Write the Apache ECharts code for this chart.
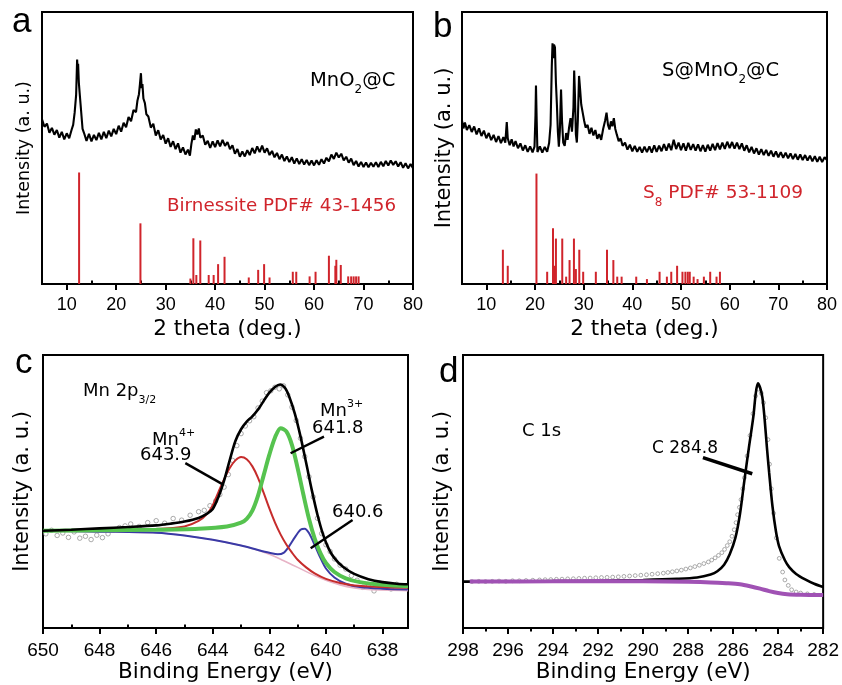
<!DOCTYPE html>
<html>
<head>
<meta charset="utf-8">
<script src="https://cdn.jsdelivr.net/npm/echarts@6/dist/echarts.min.js"></script>
<style>
html,body{margin:0;padding:0;background:#fff;}
#chart{width:842px;height:685px;}
</style>
</head>
<body>
<div id="chart"></div>
<script>
// ---------- DATA ----------
// Panel a: XRD of MnO2@C  [2theta, intensity]
const xrdA = [
[5.0,60.5],[5.5,57.8],[6.0,59.0],[6.5,55.6],[7.0,57.4],[7.5,54.9],[8.0,56.6],[8.5,53.8],[9.0,55.9],[9.5,53.2],
[10.0,55.4],[10.5,53.6],[11.0,56.8],[11.3,58.5],[11.6,63.0],[11.9,69.5],[12.0,76.0],[12.1,82.5],[12.2,79.0],[12.3,81.0],
[12.45,74.0],[12.6,70.5],[12.8,66.0],[13.0,61.5],[13.2,57.0],[13.5,55.5],[14.0,52.6],[14.5,55.2],[15.0,52.4],[15.5,54.8],
[16.0,52.9],[16.5,55.6],[17.0,53.2],[17.5,55.9],[18.0,53.6],[18.5,56.4],[19.0,54.3],[19.5,57.0],[20.0,55.1],[20.5,58.2],
[21.0,56.0],[21.5,59.3],[22.0,57.6],[22.5,61.4],[23.0,59.8],[23.5,64.0],[24.0,63.2],[24.3,67.5],[24.6,69.8],[24.8,73.5],
[25.0,77.5],[25.15,72.0],[25.3,73.5],[25.5,68.2],[25.8,66.5],[26.1,62.4],[26.5,61.6],[27.0,57.5],[27.5,58.9],[28.0,54.6],
[28.5,56.5],[29.0,53.1],[29.5,54.8],[30.0,51.6],[30.5,53.6],[31.0,50.4],[31.5,52.5],[32.0,49.6],[32.5,51.7],[33.0,48.3],
[33.5,50.2],[34.0,47.6],[34.5,49.4],[34.9,47.2],[35.2,51.5],[35.5,54.6],[35.8,53.0],[36.1,56.8],[36.4,55.0],[36.7,57.2],
[37.0,53.8],[37.5,54.6],[38.0,51.2],[38.5,52.6],[39.0,50.0],[39.5,52.4],[40.0,50.3],[40.5,52.8],[41.0,50.6],[41.5,53.0],
[42.0,50.8],[42.5,52.2],[43.0,49.6],[43.5,51.0],[44.0,47.9],[44.5,49.6],[45.0,46.8],[45.5,48.7],[46.0,46.9],[46.5,49.2],
[47.0,47.4],[47.5,50.0],[48.0,48.0],[48.5,50.6],[49.0,48.5],[49.5,50.9],[50.0,48.3],[50.5,49.9],[51.0,47.4],[51.5,48.9],
[52.0,46.6],[52.5,48.2],[53.0,45.9],[53.5,47.6],[54.0,45.2],[54.5,46.9],[55.0,44.8],[55.5,46.6],[56.0,44.3],[56.5,46.2],
[57.0,44.1],[57.5,45.9],[58.0,43.9],[58.5,45.6],[59.0,43.7],[59.5,45.4],[60.0,43.6],[60.5,45.5],[61.0,43.8],[61.5,45.9],
[62.0,44.3],[62.5,46.4],[63.0,45.1],[63.5,47.6],[64.0,46.0],[64.5,48.3],[65.0,46.5],[65.5,47.9],[66.0,45.4],[66.5,46.8],
[67.0,44.6],[67.5,46.1],[68.0,43.7],[68.5,45.2],[69.0,43.2],[69.5,44.9],[70.0,43.0],[70.5,44.7],[71.0,42.9],[71.5,44.6],
[72.0,43.1],[72.5,44.8],[73.0,43.0],[73.5,44.9],[74.0,43.3],[74.5,45.2],[75.0,43.6],[75.5,45.4],[76.0,43.8],[76.5,45.1],
[77.0,43.2],[77.5,44.8],[78.0,42.7],[78.5,44.4],[79.0,42.5],[79.5,44.1],[80.0,42.6]
];
// Birnessite PDF# 43-1456 reference lines
const refA = [
[12.5,41],[24.9,22.3],[35.0,2.0],[35.6,16.8],[36.2,3.3],[37.0,16.0],[38.7,3.3],[39.7,3.3],[40.6,7.3],[41.9,10.0],
[46.8,2.4],[48.7,5.2],[49.9,7.3],[51.0,2.4],[55.7,4.5],[56.4,4.5],[59.1,2.8],[60.3,4.5],[63.0,10.4],[64.3,6.7],
[64.5,8.9],[65.4,7.0],[66.9,2.8],[67.5,2.8],[68.0,2.8],[68.5,2.8],[69.0,2.8]
];
// Panel b: XRD of S@MnO2@C
const xrdB = [
[5.0,60.0],[5.3,57.2],[5.6,59.4],[6.0,56.6],[6.5,58.4],[7.0,55.9],[7.5,57.9],[8.0,55.0],[8.5,57.2],[9.0,54.4],
[9.5,56.4],[10.0,53.6],[10.5,55.5],[11.0,52.9],[11.5,54.8],[12.0,52.2],[12.5,54.4],[13.0,51.8],[13.5,54.0],[13.9,52.0],
[14.2,59.5],[14.4,53.6],[14.8,51.0],[15.2,53.2],[15.6,50.6],[16.0,52.5],[16.5,49.9],[17.0,51.7],[17.5,49.1],[18.0,51.0],
[18.5,48.6],[19.0,50.6],[19.5,48.4],[19.9,50.5],[20.1,62.0],[20.2,73.0],[20.35,60.0],[20.5,48.5],[21.0,50.6],[21.5,48.3],
[22.0,50.4],[22.5,48.6],[22.9,51.8],[23.2,58.5],[23.45,80.0],[23.6,88.5],[23.75,83.0],[23.9,88.0],[24.1,87.0],[24.3,74.0],
[24.5,66.0],[24.7,56.0],[24.9,50.5],[25.1,56.0],[25.35,71.5],[25.55,60.0],[25.8,52.0],[26.1,50.8],[26.4,55.5],[26.7,53.0],
[27.0,57.5],[27.3,61.0],[27.6,56.0],[27.9,65.0],[28.05,78.5],[28.2,70.0],[28.4,55.0],[28.6,52.0],[28.8,60.0],[29.05,76.5],
[29.25,72.0],[29.5,66.0],[29.8,63.0],[30.1,60.0],[30.4,57.5],[30.8,58.5],[31.2,55.2],[31.6,57.4],[32.0,54.6],[32.4,56.6],
[32.8,53.4],[33.2,55.1],[33.6,53.0],[34.0,57.0],[34.4,60.0],[34.7,63.0],[35.0,58.5],[35.3,56.8],[35.6,59.8],[35.9,58.0],
[36.2,61.0],[36.5,57.0],[36.8,55.0],[37.2,52.5],[37.6,53.5],[38.0,50.8],[38.5,52.0],[39.0,49.4],[39.5,51.2],[40.0,48.8],
[40.5,50.8],[41.0,48.6],[41.5,50.4],[42.0,48.3],[42.5,50.5],[43.0,48.5],[43.5,50.6],[44.0,48.3],[44.5,51.0],[45.0,48.6],
[45.5,50.9],[46.0,48.8],[46.5,51.4],[47.0,49.0],[47.5,51.6],[48.0,49.2],[48.5,53.0],[49.0,49.6],[49.5,52.0],[50.0,49.2],
[50.5,51.7],[51.0,49.0],[51.5,51.9],[52.0,49.3],[52.5,51.4],[53.0,49.0],[53.5,51.3],[54.0,48.8],[54.5,51.1],[55.0,48.7],
[55.5,51.2],[56.0,49.0],[56.5,51.5],[57.0,49.2],[57.5,51.8],[58.0,49.5],[58.5,52.0],[59.0,49.7],[59.5,52.3],[60.0,50.0],
[60.5,52.2],[61.0,49.8],[61.5,52.0],[62.0,49.6],[62.5,51.7],[63.0,49.0],[63.5,51.0],[64.0,48.4],[64.5,50.4],[65.0,48.0],
[65.5,49.9],[66.0,47.6],[66.5,49.6],[67.0,47.4],[67.5,49.3],[68.0,47.1],[68.5,49.0],[69.0,46.8],[69.5,48.7],[70.0,46.6],
[70.5,48.5],[71.0,46.4],[71.5,48.3],[72.0,46.2],[72.5,48.0],[73.0,45.9],[73.5,47.8],[74.0,45.7],[74.5,47.6],[75.0,45.6],
[75.5,47.4],[76.0,45.4],[76.5,47.2],[77.0,45.1],[77.5,47.0],[78.0,44.9],[78.5,46.8],[79.0,44.8],[79.5,46.6],[80.0,45.6]
];
// S8 PDF# 53-1109 reference lines
const refB = [
[13.4,12.6],[14.4,6.7],[20.3,40.6],[22.5,4.5],[23.7,20.5],[24.0,6.7],[24.3,16.7],[25.6,16.7],[26.4,2.7],[27.1,8.8],
[28.0,16.7],[28.4,5.5],[29.1,12.6],[29.9,4.5],[32.5,4.5],[34.8,12.6],[36.1,8.8],[36.9,2.7],[37.8,2.7],[40.8,2.7],
[43.0,1.8],[45.6,4.5],[47.1,2.7],[48.0,4.5],[49.2,6.7],[50.3,4.5],[50.9,4.5],[51.4,4.5],[51.8,4.5],[52.6,2.7],
[53.4,1.8],[54.7,2.7],[56.0,4.5],[57.3,2.7],[58.0,4.5]
];
// Panel c: Mn 2p3/2 XPS [binding energy, intensity]
const mnRaw = [
[649.9,34.5],[649.7,35.8],[649.5,33.9],[649.3,34.8],[649.1,33.2],[648.9,35.2],[648.7,32.9],[648.5,33.6],[648.3,32.4],[648.1,34.0],
[647.9,33.1],[647.7,34.5],[647.5,35.9],[647.3,36.8],[647.1,37.4],[646.9,38.1],[646.6,37.2],[646.3,38.6],[646.0,39.3],[645.7,38.4],
[645.4,40.1],[645.1,39.5],[644.8,41.3],[644.5,42.6],[644.3,43.1],[644.1,44.8],[643.9,46.5],[643.75,48.9],[643.6,51.6],[643.45,56.2],
[643.3,61.4],[643.15,66.8],[643.0,71.2],[642.85,74.0],[642.7,75.9],[642.55,77.4],[642.4,80.6],[642.25,83.1],[642.1,86.2],[641.95,86.9],
[641.8,88.2],[641.65,87.6],[641.5,88.7],[641.35,85.4],[641.2,80.9],[641.05,76.0],[640.9,69.5],[640.75,62.8],[640.6,55.4],[640.45,48.0],
[640.3,40.2],[640.15,34.6],[640.0,30.5],[639.85,28.0],[639.7,25.3],[639.5,23.0],[639.3,21.6],[639.1,19.2],[638.9,17.5],[638.7,14.9],
[638.5,15.8],[638.3,13.6],[638.1,16.4],[637.9,15.1],[637.7,14.3],[637.5,16.0]
];
const mnEnvelope = [
[650,35.6],[649,36.0],[648,36.5],[647,37.0],[646,37.6],[645.5,38.2],[645,39.0],[644.5,40.3],[644.2,41.9],[644.0,43.6],
[643.8,48.0],[643.6,54.0],[643.4,61.5],[643.2,68.5],[643.0,72.8],[642.8,75.6],[642.6,77.5],[642.4,80.0],[642.2,83.2],[642.0,86.2],
[641.8,88.3],[641.62,89.2],[641.45,88.0],[641.3,84.8],[641.1,78.5],[640.9,70.2],[640.7,60.5],[640.5,50.5],[640.3,41.5],[640.1,34.2],
[639.9,29.0],[639.7,25.6],[639.4,22.4],[639.0,19.8],[638.5,17.9],[638.0,16.8],[637.5,16.2],[637.1,16.0]
];
const mn4 = [
[650,35.6],[648,35.9],[646,36.3],[645,37.2],[644.5,39.2],[644.2,41.8],[644.0,45.0],[643.8,49.8],[643.6,54.5],[643.4,58.6],
[643.2,61.4],[643.0,62.6],[642.8,61.8],[642.6,59.2],[642.4,55.0],[642.2,49.5],[642.0,43.8],[641.8,38.6],[641.6,34.2],[641.4,30.6],
[641.2,27.6],[641.0,25.0],[640.7,22.2],[640.4,20.0],[640.0,18.0],[639.5,16.5],[639.0,15.6],[638.0,15.0],[637.1,14.7]
];
const mn3 = [
[650,35.6],[648,35.8],[646,36.0],[644.5,36.4],[643.5,37.2],[643.0,38.6],[642.8,40.0],[642.6,43.0],[642.4,48.5],[642.2,56.0],
[642.0,63.5],[641.8,69.8],[641.6,73.2],[641.4,72.0],[641.2,67.0],[641.0,58.5],[640.8,49.0],[640.6,40.0],[640.4,32.8],[640.2,27.5],
[640.0,23.8],[639.7,20.5],[639.3,18.2],[638.8,16.8],[638.0,15.8],[637.1,15.3]
];
const mn406 = [
[650,35.6],[648,35.3],[646,34.9],[645,33.9],[644,32.3],[643,30.2],[642.4,28.6],[642,27.6],[641.7,27.0],[641.5,27.5],
[641.3,30.0],[641.1,33.2],[640.9,36.0],[640.75,36.4],[640.6,34.8],[640.4,30.5],[640.2,25.8],[640.0,21.8],[639.7,18.5],[639.3,16.2],
[638.8,15.0],[638.0,14.4],[637.1,14.1]
];
const mnBackground = [
[650,35.6],[648,35.3],[646,34.9],[645,33.9],[644,32.3],[643,30.2],[642.4,28.5],[642,27.0],[641.6,25.2],[641.2,23.2],
[640.8,21.2],[640.4,19.2],[640.0,17.5],[639.5,15.8],[639.0,14.7],[638.5,14.1],[637.1,13.7]
];
// Panel d: C 1s XPS
const cRaw = [
[297.6,17.0],[297.3,17.1],[297.0,17.0],[296.7,17.1],[296.4,17.2],[296.1,17.1],[295.8,17.3],[295.5,17.3],[295.2,17.4],[294.9,17.5],
[294.6,17.6],[294.35,17.7],[294.1,17.75],[293.85,17.85],[293.6,17.9],[293.35,18.0],[293.1,18.05],[292.85,18.15],[292.6,18.25],[292.35,18.3],
[292.1,18.4],[291.85,18.5],[291.6,18.55],[291.35,18.65],[291.1,18.75],[290.85,18.9],[290.6,19.05],[290.35,19.2],[290.1,19.35],[289.85,19.5],
[289.6,19.7],[289.35,19.9],[289.1,20.1],[288.9,20.35],[288.7,20.6],[288.5,20.9],[288.3,21.2],[288.1,21.6],[287.9,22.0],[287.7,22.5],
[287.5,23.0],[287.3,23.6],[287.1,24.2],[286.95,24.9],[286.8,25.7],[286.65,26.6],[286.5,27.6],[286.38,28.8],[286.26,30.2],[286.15,31.6],
[286.05,33.6],[285.95,36.0],[285.87,38.6],[285.8,41.5],[285.72,44.2],[285.65,47.0],[285.57,51.0],[285.5,55.0],[285.38,63.0],[285.25,70.5],
[285.12,78.5],[285.0,85.0],[284.88,87.5],[284.75,86.0],[284.65,82.5],[284.55,77.0],[284.45,69.0],[284.38,60.0],[284.3,51.0],[284.2,42.0],
[284.08,33.0],[283.95,25.5],[283.8,20.5],[283.7,17.6],[283.55,15.6],[283.4,14.0],[283.2,13.2],[283.0,12.8],[282.7,12.5],[282.4,12.3]
];
const cFit = [
[298,17.0],[295,17.1],[292,17.3],[290,17.6],[288.5,18.0],[287.6,18.5],[287,19.6],[286.7,20.8],[286.4,23.2],[286.15,27.0],
[285.9,33.0],[285.7,41.5],[285.5,54.0],[285.3,66.0],[285.1,77.5],[285.0,85.5],[284.9,89.6],[284.8,88.0],[284.7,84.5],[284.6,76.5],
[284.5,66.3],[284.4,57.0],[284.25,44.5],[284.1,35.5],[283.96,30.0],[283.7,24.8],[283.5,22.2],[283.2,19.8],[282.8,17.8],[282.4,16.2],[282.0,15.0]
];
const cBackground = [
[297.7,17.0],[294,17.1],[292,17.2],[290,17.1],[288,16.9],[287,16.7],[286.3,16.4],[285.7,16.0],[285.2,15.2],[284.8,14.4],
[284.4,13.5],[284.0,12.8],[283.6,12.4],[283.0,12.2],[282.0,12.1]
];
// tick labels
const ticksXRD = [10,20,30,40,50,60,70,80];
const minorXRD = [15,25,35,45,55,65,75];
const ticksMn = [650,648,646,644,642,640,638];
const minorMn = [649,647,645,643,641,639];
// annotation pointer lines [[x1,y1],[x2,y2]]
const pointerMn4 = [[644.97,60.4],[643.66,52.7]];
const pointerMn3 = [[640.07,70.1],[641.25,64.0]];
const pointer6406 = [[639.06,39.6],[640.54,29.2]];
const pointerC = [[287.34,62.4],[285.15,56.5]];

// ---------- CHART ----------
const FT = 'DejaVu Sans';
const FN = 'Liberation Sans';
const chart = echarts.init(document.getElementById('chart'), null, {renderer: 'canvas'});

const grids = [
  {left: 42, top: 12, width: 371, height: 272},
  {left: 462, top: 12, width: 365, height: 272},
  {left: 43, top: 355, width: 365, height: 273},
  {left: 463, top: 355, width: 365, height: 273}
].map(g => Object.assign(g, {show: true, borderColor: '#000', borderWidth: 2, backgroundColor: 'transparent'}));

function mainX(grid, opt) {
  return Object.assign({
    gridIndex: grid, type: 'value',
    axisLine: {show: true, onZero: false, lineStyle: {color: '#000', width: 2}},
    axisTick: {show: true, length: 6, lineStyle: {color: '#000', width: 2}},
    axisLabel: {color: '#000', fontFamily: FN},
    splitLine: {show: false},
    nameLocation: 'middle',
    nameTextStyle: {color: '#000', fontFamily: FT}
  }, opt);
}
function minorX(grid, opt) {
  return Object.assign({
    gridIndex: grid, type: 'value',
    axisLine: {show: false},
    axisTick: {show: true, length: 3.5, lineStyle: {color: '#000', width: 2}},
    axisLabel: {show: false},
    splitLine: {show: false}
  }, opt);
}

const xAxes = [
  mainX(0, {min: 5, max: 80, axisTick: {show: true, customValues: ticksXRD, length: 6, lineStyle: {color: '#000', width: 2}},
    axisLabel: {customValues: ticksXRD, fontSize: 18, margin: 12, color: '#000', fontFamily: FN},
    name: '2 theta (deg.)', nameGap: 34, nameTextStyle: {fontSize: 21.5, color: '#000', fontFamily: FT}}),
  minorX(0, {min: 5, max: 80, axisTick: {show: true, customValues: minorXRD, length: 3.5, lineStyle: {color: '#000', width: 2}}}),
  mainX(1, {min: 5, max: 80, axisTick: {show: true, customValues: ticksXRD, length: 6, lineStyle: {color: '#000', width: 2}},
    axisLabel: {customValues: ticksXRD, fontSize: 18, margin: 12, color: '#000', fontFamily: FN},
    name: '2 theta (deg.)', nameGap: 34, nameTextStyle: {fontSize: 21.5, color: '#000', fontFamily: FT}}),
  minorX(1, {min: 5, max: 80, axisTick: {show: true, customValues: minorXRD, length: 3.5, lineStyle: {color: '#000', width: 2}}}),
  mainX(2, {min: 637.1, max: 650, inverse: true, axisTick: {show: true, customValues: ticksMn, length: 6, lineStyle: {color: '#000', width: 2}},
    axisLabel: {customValues: ticksMn, fontSize: 19, margin: 13, color: '#000', fontFamily: FN},
    name: 'Binding Energy (eV)', nameGap: 33, nameTextStyle: {fontSize: 21.5, color: '#000', fontFamily: FT}}),
  minorX(2, {min: 637.1, max: 650, inverse: true, axisTick: {show: true, customValues: minorMn, length: 3.5, lineStyle: {color: '#000', width: 2}}}),
  mainX(3, {min: 282, max: 298, interval: 2, inverse: true,
    axisTick: {show: true, length: 6, lineStyle: {color: '#000', width: 2}},
    minorTick: {show: true, splitNumber: 2, length: 3.5, lineStyle: {color: '#000', width: 2}},
    axisLabel: {fontSize: 19, margin: 13, color: '#000', fontFamily: FN},
    name: 'Binding Energy (eV)', nameGap: 33, nameTextStyle: {fontSize: 21.5, color: '#000', fontFamily: FT}})
];

function yAx(grid, fs, gap) {
  return {
    gridIndex: grid, type: 'value', min: 0, max: 100,
    axisLine: {show: false}, axisTick: {show: false}, axisLabel: {show: false}, splitLine: {show: false},
    name: 'Intensity (a. u.)', nameLocation: 'middle', nameRotate: 90, nameGap: gap,
    nameTextStyle: {fontSize: fs, color: '#000', fontFamily: FT}
  };
}
const yAxes = [yAx(0, 17.5, 9), yAx(1, 21, 6.5), yAx(2, 21, 9.5), yAx(3, 21, 9.5)];

function pointer(p) { return [{coord: p[0]}, {coord: p[1]}]; }
const RED = '#d0242b';

const series = [
  // panel a
  {type: 'bar', xAxisIndex: 0, yAxisIndex: 0, data: refA, barWidth: 2, itemStyle: {color: RED}},
  {type: 'line', xAxisIndex: 0, yAxisIndex: 0, data: xrdA, symbol: 'none', lineStyle: {color: '#000', width: 2.1}},
  // panel b
  {type: 'bar', xAxisIndex: 2, yAxisIndex: 1, data: refB, barWidth: 2, itemStyle: {color: RED}},
  {type: 'line', xAxisIndex: 2, yAxisIndex: 1, data: xrdB, symbol: 'none', lineStyle: {color: '#000', width: 2.1}},
  // panel c
  {type: 'scatter', xAxisIndex: 4, yAxisIndex: 2, data: mnRaw, symbol: 'circle', symbolSize: 4.5,
    itemStyle: {color: '#fff', borderColor: '#8a8a8a', borderWidth: 0.9}},
  {type: 'line', xAxisIndex: 4, yAxisIndex: 2, data: mnBackground, symbol: 'none', smooth: 0.3, lineStyle: {color: '#e7b3c6', width: 1.6}},
  {type: 'line', xAxisIndex: 4, yAxisIndex: 2, data: mn406, symbol: 'none', smooth: 0.3, lineStyle: {color: '#3a3aa6', width: 2}},
  {type: 'line', xAxisIndex: 4, yAxisIndex: 2, data: mn4, symbol: 'none', smooth: 0.3, lineStyle: {color: '#c62c2c', width: 2}},
  {type: 'line', xAxisIndex: 4, yAxisIndex: 2, data: mn3, symbol: 'none', smooth: 0.3, lineStyle: {color: '#56c34f', width: 4}},
  {type: 'line', xAxisIndex: 4, yAxisIndex: 2, data: mnEnvelope, symbol: 'none', smooth: 0.3, lineStyle: {color: '#000', width: 2.6},
    markLine: {silent: true, symbol: ['none', 'none'], label: {show: false}, lineStyle: {color: '#000', width: 2.4, type: 'solid'},
      data: [pointer(pointerMn4), pointer(pointerMn3), pointer(pointer6406)]}},
  // panel d
  {type: 'scatter', xAxisIndex: 6, yAxisIndex: 3, data: cRaw, symbol: 'circle', symbolSize: 3.8,
    itemStyle: {color: '#fff', borderColor: '#8a8a8a', borderWidth: 0.9}},
  {type: 'line', xAxisIndex: 6, yAxisIndex: 3, data: cFit, symbol: 'none', smooth: 0.3, lineStyle: {color: '#000', width: 2.6},
    markLine: {silent: true, symbol: ['none', 'none'], label: {show: false}, lineStyle: {color: '#000', width: 3.5, type: 'solid'},
      data: [pointer(pointerC)]}},
  {type: 'line', xAxisIndex: 6, yAxisIndex: 3, data: cBackground, symbol: 'none', smooth: 0.3, lineStyle: {color: '#a052b4', width: 4}}
];

// text labels
function tok(fs, extra) { return Object.assign({fontFamily: FT, fontSize: fs, fill: '#000', color: '#000'}, extra || {}); }
function label(x, y, text, rich, fill) {
  return {type: 'text', x: x, y: y, z: 100,
    style: {text: text, align: 'left', verticalAlign: 'middle', fill: fill || '#000', font: '18px "DejaVu Sans"', rich: rich}};
}
function letter(x, y, t) {
  return {type: 'text', x: x, y: y, z: 100,
    style: {text: t, align: 'left', verticalAlign: 'middle', fill: '#000', font: '35px "Liberation Sans"'}};
}
const richSub = (fs, sfs, col) => ({
  m: tok(fs, {lineHeight: 30, verticalAlign: 'middle', color: col, fill: col}),
  s: tok(sfs, {lineHeight: 12, verticalAlign: 'bottom', color: col, fill: col})
});
const richSup = (fs, sfs) => ({
  m: tok(fs, {lineHeight: 24, verticalAlign: 'middle'}),
  s: tok(sfs, {lineHeight: 11, verticalAlign: 'top'})
});

const graphics = [
  letter(12, 22, 'a'), letter(433, 27.5, 'b'), letter(15, 363, 'c'), letter(439, 372, 'd'),
  label(310, 81, '{m|MnO}{s|2}{m|@C}', richSub(19.5, 12, '#000')),
  label(167, 206, '{m|Birnessite PDF# 43-1456}', richSub(18.3, 12, RED), RED),
  label(662, 70.5, '{m|S@MnO}{s|2}{m|@C}', richSub(19.5, 12, '#000')),
  label(643, 193.5, '{m|S}{s|8}{m| PDF# 53-1109}', richSub(18.5, 12, RED), RED),
  label(83, 391, '{m|Mn 2p}{s|3/2}', richSub(18, 11, '#000')),
  label(152, 440, '{m|Mn}{s|4+}', richSup(18, 11)),
  label(140, 455, '{m|643.9}', richSup(18, 11)),
  label(320, 411, '{m|Mn}{s|3+}', richSup(18, 11)),
  label(312, 428.5, '{m|641.8}', richSup(18, 11)),
  label(332, 512, '{m|640.6}', richSup(18, 11)),
  label(522, 431, '{m|C 1s}', richSup(18, 11)),
  label(652, 448.5, '{m|C 284.8}', richSup(17, 11))
];

chart.setOption({
  animation: false,
  backgroundColor: '#fff',
  grid: grids,
  xAxis: xAxes,
  yAxis: yAxes,
  series: series,
  graphic: graphics
});
</script>
</body>
</html>
